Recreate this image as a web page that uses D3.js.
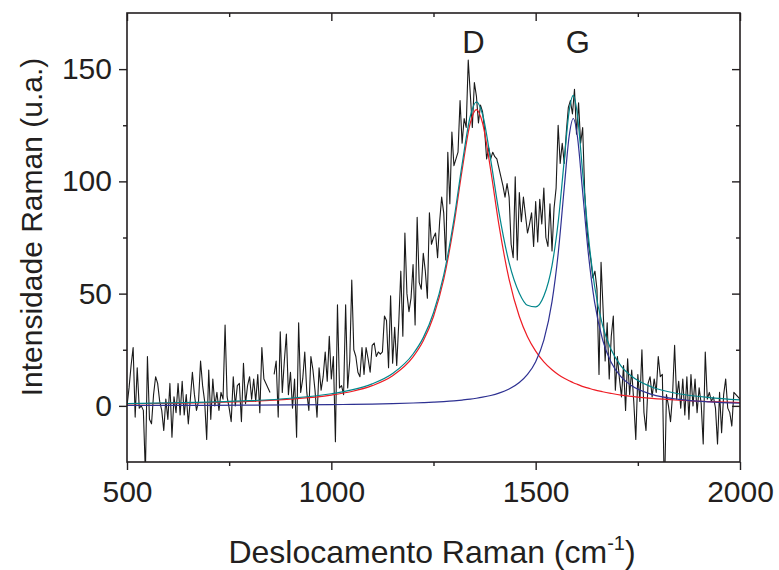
<!DOCTYPE html>
<html>
<head>
<meta charset="utf-8">
<script src="https://cdn.jsdelivr.net/npm/d3@7"></script>
<style>
  body { margin: 0; background: #fff; }
  svg { display: block; font-family: "Liberation Sans", Arial, sans-serif; }
  .axis text { font-size: 30px; fill: #231f20; }
  .axis line { stroke: #231f20; stroke-width: 1.4px; }
  .axis path { display: none; }
</style>
</head>
<body>
<div class="chart"></div>
<script>
// measured spectrum, 500..2000 cm-1 every 5 cm-1 (null = missing point)
var shiftStart = 500, shiftStep = 5;
var intensity = [
  0, 8, 18, 26, -5, 17, -1, 0, -2, -30,
  22, -6, -8, 5, 13, 10, 2, -2, -11, 3,
  -6, 10, -14, 4, -3, 10, -4, 11, -4, 5,
  -8, 3, 15, 5, -2, 2, 20, 9, 2, -15,
  16, -6, 12, 0, 6, -2, 6, 3, 36, 4,
  -1, -7, 13, 0, 9, 10, -7, 19, 1, 9,
  13, 3, 12, 2, 14, -3, 26, 12, 10, 8,
  6, null, 14, 20, -5, 33, 6, 20, 32, 5,
  15, -1, 12, -14, 37, 6, 12, 24, 6, -2,
  22, 16, 7, -5, 17, 7, 13, 24, 11, 31,
  12, 22, -16, 45, 8, 9, 5, 45, 8, 20,
  56, 25, 22, 15, 13, 26, 14, 26, 21, 15,
  27, 28, 22, 24, 23, 24, 40, 38, 17, 49,
  19, 35, 18, 37, 60, 31, 77, 50, 42, 48,
  63, 36, 84, 55, 52, 68, 60, 48, 86, 72,
  75, 77, 66, 82, 93, 86, 65, 113, 90, 122,
  107, 110, 113, 136, 117, 128, 124, 154, 139, 124,
  144, 138, 126, 134, 131, 123, 110, 115, 110, 113,
  111, 110, 106, 102, 98, 93, 99, 93, 72, 66,
  102, 65, 95, 82, 93, 85, 77, 81, 86, 71,
  91, 73, 92, 81, 97, 75, 71, 90, 69, 88,
  97, 125, 108, 117, 108, 122, 133, 136, 130, 141,
  121, 135, 117, 124, 95, 80, 71, 65, 57, 60,
  52, 14, 64, 43, 20, 37, 12, 31, 40, 7,
  22, 12, 4, 18, -2, 21, 5, 16, 2, -15,
  14, 2, 25, -3, -11, 10, 13, 4, 12, 6,
  22, 13, 14, -40, 5, 0, -7, 5, 27, 3,
  11, -1, 12, -4, 13, -6, 14, 0, 12, -3,
  8, 1, -17, 24, 3, 6, 2, 4, -1, -17,
  6, -12, 5, 12, -1, -3, -9, 6, 5, 4,
  3
];

// fitted peaks
var fitShift = [500, 600, 700, 800, 900, 1000, 1050, 1100, 1150, 1200, 1225, 1250, 1275, 1300,
  1320, 1340, 1355, 1370, 1390, 1410, 1435, 1460, 1480, 1500, 1520, 1540, 1555, 1570,
  1582, 1592, 1602, 1614, 1629, 1644, 1664, 1684, 1709, 1734, 1784, 1850, 1925, 2000];
var fitD = [0.85, 1.1, 1.45, 2.0, 3.0, 4.8, 6.4, 9.0, 13.4, 21.8, 29.0, 39.8, 56.3, 80.7,
  105.0, 126.0, 132.0, 126.0, 105.0, 80.7, 56.3, 39.8, 30.8, 24.4, 19.6, 16.1, 14.0, 12.3,
  11.2, 10.3, 9.6, 8.7, 7.9, 7.1, 6.3, 5.6, 4.8, 4.2, 3.3, 2.5, 1.9, 1.5];
var fitG = [0.16, 0.2, 0.25, 0.31, 0.41, 0.56, 0.67, 0.81, 1.0, 1.27, 1.44, 1.66, 1.93, 2.26,
  2.6, 3.0, 3.4, 3.87, 4.64, 5.67, 7.5, 10.4, 14.0, 19.7, 29.3, 46.4, 67.7, 97.3,
  120.2, 128.0, 120.2, 97.3, 67.7, 46.4, 29.3, 19.7, 12.9, 9.06, 5.12, 2.9, 1.75, 1.17];
var fitSum = [1.0, 1.3, 1.7, 2.3, 3.4, 5.4, 7.1, 9.8, 14.4, 23.1, 30.4, 41.5, 58.2, 83.0,
  107.6, 129.0, 135.4, 129.9, 109.6, 86.4, 63.8, 50.2, 44.8, 44.1, 48.9, 62.5, 81.7, 109.6,
  131.4, 138.3, 129.8, 106.0, 75.6, 53.5, 35.6, 25.3, 17.7, 13.3, 8.4, 5.4, 3.7, 2.7];

var peakLabels = ["D", "G"];
var peakLabelShift = [1348, 1603];

var xMajor = [500, 1000, 1500, 2000];
var xMinor = [750, 1250, 1750];
var yMajor = [0, 50, 100, 150];
var yMinor = [25, 75, 125];

var width = 779, height = 570;
var margin = { top: 13, right: 39, bottom: 108, left: 127 };
var w = width - margin.left - margin.right;
var h = height - margin.top - margin.bottom;

var x = d3.scaleLinear().domain([500, 2000]).range([0, w]);
var y = d3.scaleLinear().domain([-25, 175]).range([h, 0]);

var svg = d3.select(".chart").append("svg")
    .attr("width", width)
    .attr("height", height);

svg.append("defs").append("clipPath").attr("id", "plot-clip")
  .append("rect").attr("width", w).attr("height", h);

var g = svg.append("g")
    .attr("transform", "translate(" + margin.left + "," + margin.top + ")");

var spectrum = intensity.map(function(v, i) {
    return { s: shiftStart + i * shiftStep, v: v };
});
var fits = [
    { values: fitD, color: "#ee1c24" },
    { values: fitG, color: "#2e3192" },
    { values: fitSum, color: "#00868b" }
];

var plot = g.append("g").attr("clip-path", "url(#plot-clip)");

plot.append("path")
    .datum(spectrum)
    .attr("fill", "none")
    .attr("stroke", "#1a1a1a")
    .attr("stroke-width", 1.1)
    .attr("stroke-linejoin", "round")
    .attr("d", d3.line()
        .defined(function(d) { return d.v !== null; })
        .x(function(d) { return x(d.s); })
        .y(function(d) { return y(d.v); }));

var fitLine = d3.line()
    .curve(d3.curveMonotoneX)
    .x(function(d) { return x(d[0]); })
    .y(function(d) { return y(d[1]); });

fits.forEach(function(f) {
    plot.append("path")
        .datum(d3.zip(fitShift, f.values))
        .attr("fill", "none")
        .attr("stroke", f.color)
        .attr("stroke-width", 1.2)
        .attr("d", fitLine);
});

// axes: outward ticks bottom/left, inward ticks top/right
function addAxis(axisFn, vals, size, transform, labels) {
    var a = g.append("g").attr("class", "axis").attr("transform", transform)
        .call(axisFn.tickValues(vals).tickSizeOuter(0).tickSize(size)
            .tickFormat(labels ? d3.format("d") : ""));
    return a;
}
var bx = addAxis(d3.axisBottom(x), xMajor, 8, "translate(0," + h + ")", true);
bx.selectAll("text").attr("dy", "0.71em").attr("y", 19);
addAxis(d3.axisBottom(x), xMinor, 4, "translate(0," + h + ")", false);
addAxis(d3.axisTop(x), xMajor, -8, "translate(0,0)", false);
addAxis(d3.axisTop(x), xMinor, -4, "translate(0,0)", false);

var ly = addAxis(d3.axisLeft(y), yMajor, 8, "translate(0,0)", true);
ly.selectAll("text").attr("x", -15);
addAxis(d3.axisLeft(y), yMinor, 4, "translate(0,0)", false);
addAxis(d3.axisRight(y), yMajor, -8, "translate(" + w + ",0)", false);
addAxis(d3.axisRight(y), yMinor, -4, "translate(" + w + ",0)", false);

g.append("rect")
    .attr("width", w)
    .attr("height", h)
    .attr("fill", "none")
    .attr("stroke", "#231f20")
    .attr("stroke-width", 1.6);

// peak labels
g.selectAll(".peak-label")
    .data(peakLabels)
    .enter().append("text")
    .attr("class", "peak-label")
    .attr("x", function(d, i) { return x(peakLabelShift[i]); })
    .attr("y", 40)
    .attr("text-anchor", "middle")
    .style("font-size", "31px")
    .style("fill", "#231f20")
    .text(function(d) { return d; });

// axis titles
var xt = svg.append("text")
    .attr("x", 432)
    .attr("y", 563)
    .attr("text-anchor", "middle")
    .style("font-size", "32px")
    .style("fill", "#231f20");
xt.append("tspan").text("Deslocamento Raman (cm");
xt.append("tspan").attr("dy", -13).style("font-size", "20px").text("-1");
xt.append("tspan").attr("dy", 13).text(")");

svg.append("text")
    .attr("transform", "translate(42,227) rotate(-90)")
    .attr("text-anchor", "middle")
    .style("font-size", "30px")
    .style("fill", "#231f20")
    .text("Intensidade Raman (u.a.)");
</script>
</body>
</html>
